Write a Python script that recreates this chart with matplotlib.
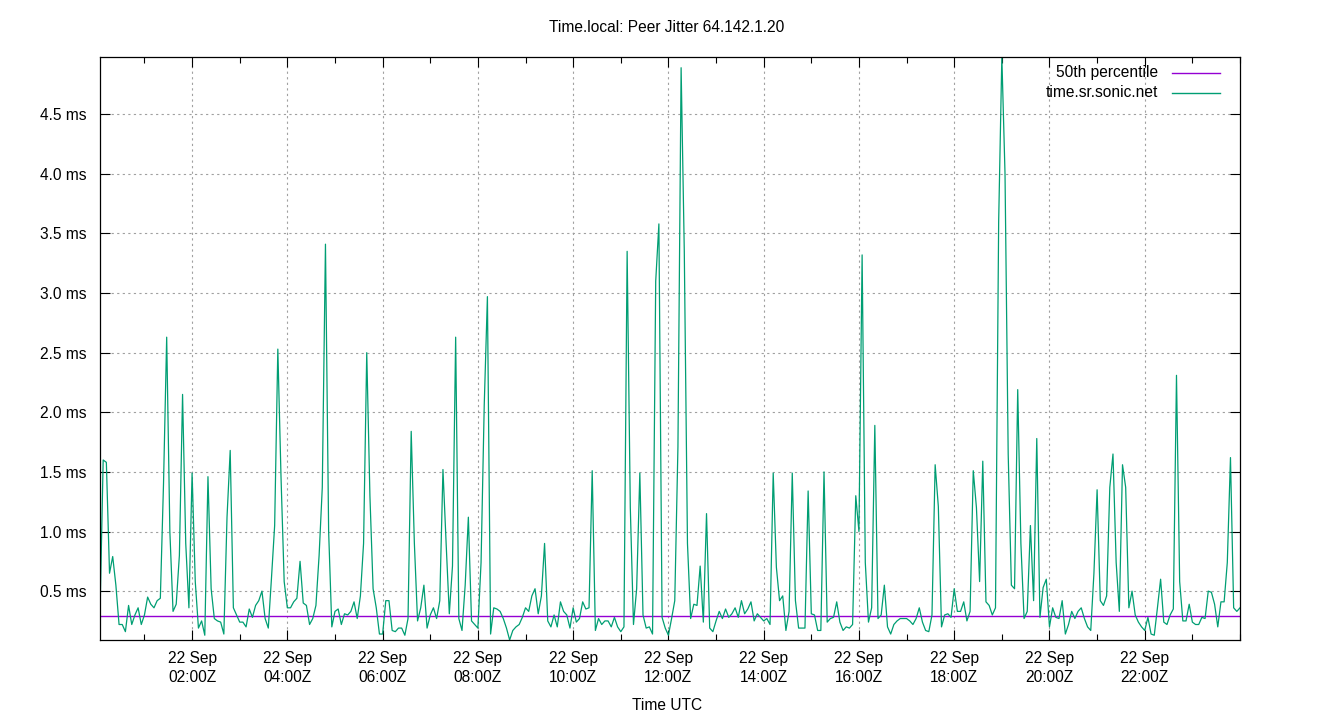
import pandas as pd
import matplotlib
matplotlib.use('Agg')
import matplotlib.pyplot as plt
import matplotlib.dates as mdates
from matplotlib.lines import Line2D
from matplotlib.ticker import FuncFormatter

plt.rcParams['font.family'] = ['Liberation Sans', 'DejaVu Sans']

TITLE = 'Time.local: Peer Jitter 64.142.1.20'
SERVER = 'time.sr.sonic.net'
START = '2019-09-22 00:04'
STEP = '4min'
P50_MS = 0.29
FS = 11.2

# peer jitter in ms, one sample every 4 minutes, split in 3-hour blocks
jitter_00 = [0.31, 1.6, 1.58, 0.65, 0.79, 0.55, 0.22, 0.22, 0.16, 0.38,
             0.22, 0.30, 0.36, 0.22, 0.30, 0.45, 0.39, 0.36, 0.42, 0.44,
             1.4, 2.63, 1.0, 0.33, 0.39, 0.8, 2.15, 0.9, 0.36, 1.49,
             0.58, 0.19, 0.25, 0.13, 1.46, 0.52, 0.27, 0.25, 0.24, 0.14,
             1.12, 1.68, 0.36, 0.30, 0.24]
jitter_03 = [0.24, 0.20, 0.35, 0.28, 0.38, 0.42, 0.50, 0.27, 0.19, 0.61,
             1.05, 2.53, 1.46, 0.58, 0.36, 0.36, 0.41, 0.44, 0.75, 0.40,
             0.38, 0.22, 0.27, 0.38, 0.80, 1.37, 3.41, 1.0, 0.20, 0.33,
             0.35, 0.22, 0.31, 0.30, 0.33, 0.41, 0.27, 0.46, 0.90, 2.5,
             1.3, 0.52, 0.36, 0.14, 0.14]
jitter_06 = [0.42, 0.42, 0.17, 0.16, 0.19, 0.19, 0.13, 0.27, 1.84, 0.90,
             0.25, 0.36, 0.55, 0.19, 0.30, 0.36, 0.27, 0.42, 1.52, 0.90,
             0.31, 0.71, 2.63, 0.27, 0.17, 0.55, 1.12, 0.25, 0.22, 0.19,
             0.74, 2.06, 2.97, 0.14, 0.36, 0.35, 0.33, 0.27, 0.19, 0.09,
             0.17, 0.20, 0.22, 0.28, 0.36]
jitter_09 = [0.33, 0.46, 0.52, 0.31, 0.46, 0.90, 0.25, 0.20, 0.30, 0.20,
             0.41, 0.33, 0.30, 0.19, 0.36, 0.24, 0.27, 0.41, 0.35, 0.36,
             1.51, 0.17, 0.27, 0.22, 0.25, 0.25, 0.20, 0.28, 0.20, 0.16,
             0.20, 3.35, 1.2, 0.22, 0.52, 1.49, 0.30, 0.19, 0.20, 0.14,
             3.1, 3.58, 0.28, 0.19, 0.13]
jitter_12 = [0.27, 0.42, 1.71, 4.89, 3.35, 0.90, 0.27, 0.39, 0.38, 0.71,
             0.24, 1.15, 0.19, 0.16, 0.25, 0.33, 0.27, 0.35, 0.28, 0.31,
             0.36, 0.28, 0.42, 0.31, 0.35, 0.41, 0.25, 0.31, 0.28, 0.25,
             0.27, 0.22, 1.49, 0.70, 0.42, 0.46, 0.17, 0.33, 1.49, 0.42,
             0.19, 0.19, 0.19, 1.34, 0.31]
jitter_15 = [0.30, 0.17, 0.17, 1.5, 0.24, 0.27, 0.28, 0.41, 0.24, 0.17,
             0.20, 0.19, 0.22, 1.3, 1.0, 3.32, 0.74, 0.24, 0.36, 1.89,
             0.27, 0.30, 0.55, 0.20, 0.14, 0.22, 0.25, 0.27, 0.27, 0.27,
             0.25, 0.22, 0.27, 0.36, 0.24, 0.17, 0.16, 0.30, 1.56, 1.21,
             0.20, 0.30, 0.31, 0.28, 0.52]
jitter_18 = [0.33, 0.33, 0.41, 0.25, 0.33, 1.51, 1.2, 0.58, 1.59, 0.41,
             0.38, 0.30, 0.36, 3.6, 4.98, 4.0, 1.65, 0.55, 0.52, 2.19,
             0.90, 0.27, 0.33, 1.05, 0.42, 1.78, 0.28, 0.53, 0.60, 0.20,
             0.36, 0.28, 0.27, 0.42, 0.14, 0.22, 0.33, 0.27, 0.33, 0.36,
             0.27, 0.20, 0.17, 0.65, 1.35]
jitter_21 = [0.42, 0.38, 0.46, 1.37, 1.65, 0.74, 0.33, 1.56, 1.37, 0.36,
             0.50, 0.30, 0.24, 0.20, 0.17, 0.28, 0.14, 0.13, 0.36, 0.60,
             0.24, 0.22, 0.30, 0.35, 2.31, 0.58, 0.25, 0.25, 0.39, 0.24,
             0.22, 0.22, 0.28, 0.27, 0.50, 0.49, 0.39, 0.20, 0.41, 0.41,
             0.74, 1.62, 0.36, 0.33, 0.36]

y_ticks = [0.5, 1.0, 1.5, 2.0, 2.5, 3.0, 3.5, 4.0, 4.5]

jitter = (jitter_00 + jitter_03 + jitter_06 + jitter_09 +
          jitter_12 + jitter_15 + jitter_18 + jitter_21)
times = pd.date_range(START, periods=len(jitter), freq=STEP)

PURPLE = '#9400d3'
GREEN = '#009e73'

fig = plt.figure(figsize=(13.4, 7.2), dpi=100)
ax = fig.add_axes([100 / 1340, 80 / 720, 1140 / 1340, 583 / 720])

ax.axhline(P50_MS, color=PURPLE, lw=1.0)
ax.plot(times, jitter, color=GREEN, lw=0.9)

ax.set_xlim(times[0], times[-1])
ax.set_ylim(min(jitter), max(jitter))

ax.xaxis.set_major_locator(mdates.HourLocator(byhour=range(2, 24, 2)))
ax.xaxis.set_minor_locator(mdates.HourLocator())
ax.xaxis.set_major_formatter(mdates.DateFormatter('%d %b\n%H:%MZ'))
ax.set_yticks(y_ticks)
ax.yaxis.set_major_formatter(FuncFormatter(lambda v, p: '{:.1f} ms'.format(v)))

ax.tick_params(which='both', direction='in', top=True, right=True,
               labelsize=FS, color='black', width=0.8)
ax.tick_params(which='major', length=7)
ax.tick_params(which='minor', length=4)
ax.tick_params(axis='x', pad=8)
ax.tick_params(axis='y', pad=10)
for lbl in ax.get_xticklabels():
    lbl.set_linespacing(1.3)
for sp in ax.spines.values():
    sp.set_linewidth(0.9)

ax.grid(True, which='major', color='#a0a0a0', linestyle=(0, (2, 3)), linewidth=0.8)

# key in the top right corner, text right aligned like gnuplot
key_rows = [('50th percentile', PURPLE, 0.9726), (SERVER, GREEN, 0.9383)]
for label, col, yy in key_rows:
    ax.text(0.928, yy, label, transform=ax.transAxes, ha='right', va='center', fontsize=FS)
    ax.add_line(Line2D([0.9404, 0.9825], [yy, yy], transform=ax.transAxes, color=col, lw=1.0))

fig.text(667 / 1340, 1 - 27 / 720, TITLE, ha='center', va='center', fontsize=FS)
fig.text(667 / 1340, 1 - 705 / 720, 'Time UTC', ha='center', va='center', fontsize=FS)

fig.savefig('out.png', dpi=100)
